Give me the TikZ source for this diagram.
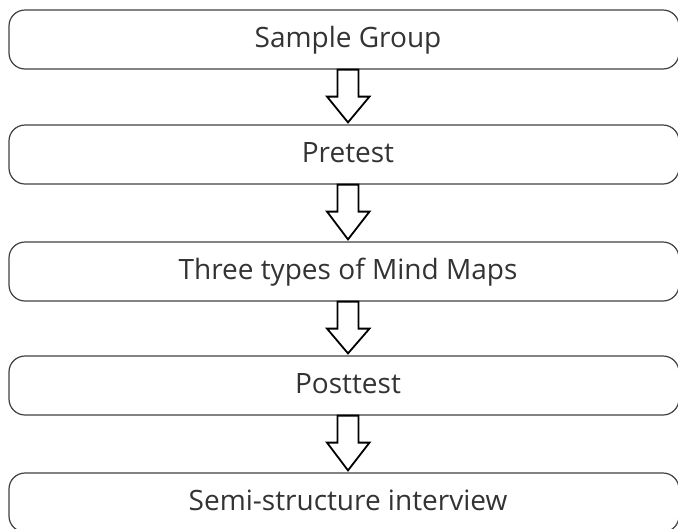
\documentclass[tikz,border=0pt]{standalone}
\usepackage{fontspec}
\setmainfont{Open Sans}
\usepackage{tikz}
\usetikzlibrary{calc}

\begin{document}
\begin{tikzpicture}[x=1pt,y=1pt,
  box/.style={draw=black!75, line width=1.2pt, rounded corners=16pt,
    minimum width=670pt, minimum height=59pt, inner sep=0pt,
    text height=20pt, text depth=4pt, text=black!80,
    font=\fontsize{28}{34}\selectfont,
    execute at begin node=\hspace*{8pt}},
  blockarrow/.style={draw=black, line width=1.8pt, fill=white, line join=miter}]
\useasboundingbox (0,0) rectangle (678,-528);

\node[box] (grp) at (344,-39.5) {Sample Group};
\node[box] (pre) at (344,-154.5) {Pretest};
\node[box] (mind) at (344,-271.5) {Three types of Mind Maps};
\node[box] (post) at (344,-385.5) {Posttest};
\node[box] (semi) at (344,-502.5) {Semi-structure interview};

% hollow arrows between the steps
\foreach \a/\b in {grp/pre, pre/mind, mind/post, post/semi}{
	\draw[blockarrow] ($(\a.south)+(-6.5,0)$) -- ++(0,-27) -- ++(-10.5,0)
		-- ($(\b.north)+(4,2)$) -- ($(\a.south)+(25.5,-27)$) -- ++(-11,0)
		-- ++(0,27) -- cycle;
	}
\end{tikzpicture}
\end{document}
